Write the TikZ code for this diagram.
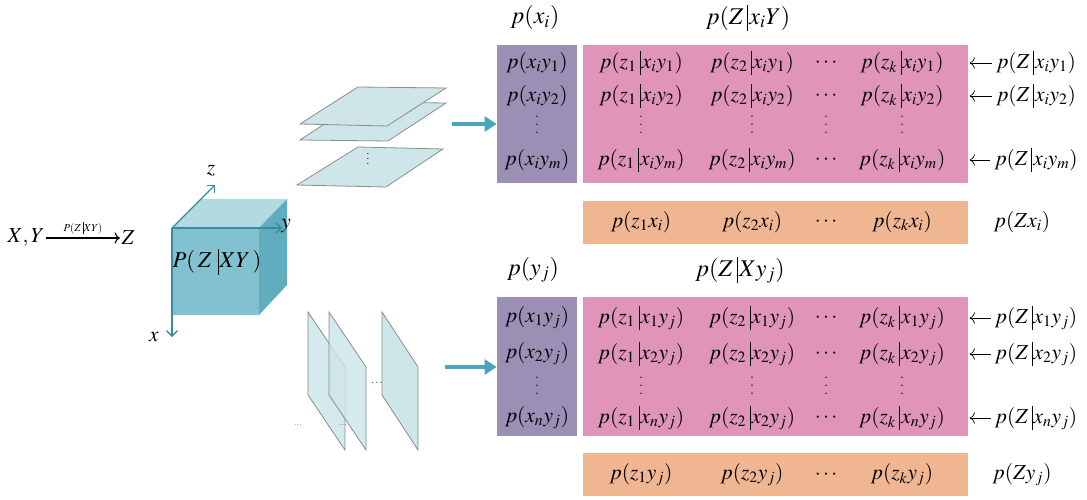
\documentclass[tikz,border=0pt]{standalone}
\usepackage{mathptmx}
\usepackage{xcolor}
\usepackage{tikz}
\usetikzlibrary{arrows.meta}
\definecolor{cubetop}{RGB}{178,216,224}
\definecolor{cubefront}{RGB}{130,193,207}
\definecolor{cubeside}{RGB}{96,173,191}
\definecolor{axisteal}{RGB}{55,140,160}
\definecolor{slicefill}{RGB}{206,230,234}
\definecolor{slicedraw}{RGB}{140,140,140}
\definecolor{colpurple}{RGB}{155,143,182}
\definecolor{blockpink}{RGB}{224,148,186}
\definecolor{rowpeach}{RGB}{240,182,146}
\definecolor{arrowteal}{RGB}{75,165,185}
\newcommand{\dotcol}{\fontsize{11}{11}\selectfont\bfseries
    \vbox{\baselineskip6pt\lineskiplimit0pt\hbox{.}\hbox{.}\hbox{.}}}
\newcommand{\given}{\mskip3mu\vrule height 0.82em depth 0.3em width 0.5pt\mskip1mu}

\begin{document}
\begin{tikzpicture}[x=0.75pt, y=-0.75pt,
    cell/.style={font=\fontsize{16}{18}\selectfont, inner sep=1pt},
    head/.style={font=\fontsize{18}{20}\selectfont, inner sep=1pt},
    block/.style={draw=none, inner sep=0pt, minimum width=288.75pt},
    slice/.style={fill=slicefill, draw=slicedraw, line width=0.6pt},
    axis/.style={axisteal, line width=1pt, -{Straight Barb[length=4pt,width=8pt]}},
    flow/.style={arrowteal, line width=3pt, -{Triangle[length=9pt,width=11pt]}},
    back/.style={-{To[length=4pt]}, line width=0.5pt, shorten >=1pt, shorten <=2pt}
]
\useasboundingbox (0,0) rectangle (1087,499);

% X,Y -> Z
\node[cell] (xy) at (26,238) {$X,Y$};
\node[cell] (zz) at (128,238) {$Z$};
\draw[-{To[length=4pt]}, line width=0.8pt] (xy) -- (zz)
    node[midway, above=-1pt, font=\fontsize{8}{9}\selectfont] {$P(Z\given XY)$};

% cube
\fill[cubefront] (172,228) -- (259,228) -- (259,315) -- (172,315) -- cycle;
\fill[cubetop] (172,228) -- (201,199) -- (287,199) -- (259,228) -- cycle;
\fill[cubeside] (259,228) -- (287,199) -- (287,285) -- (259,315) -- cycle;
\coordinate (o) at (172,228);
\coordinate (zend) at (215,185);
\coordinate (yend) at (282,228);
\coordinate (xend) at (172,337);
\draw[axis] (o) -- (zend);
\draw[axis] (o) -- (yend);
\draw[axis] (o) -- (xend);
\node[cell] (zlab) at (211,171) {$z$};
\node[cell] (ylab) at (286,226) {$y$};
\node[cell] (xlab) at (154,337) {$x$};
\node[font=\fontsize{17}{19}\selectfont] (pzxy) at (217,262) {$P(\,Z\,\given XY\,)$};

% slices (top)
\draw[slice] (358,147) -- (443,149) -- (386,187) -- (297,185) -- cycle;
\draw[slice] (358,102) -- (446,103) -- (388,141) -- (300,140) -- cycle;
\draw[slice] (358,87) -- (446,88) -- (387,126) -- (300,124) -- cycle;
\node[inner sep=0pt, font=\fontsize{8}{8}\selectfont] (tdots) at (368,155) {$\vdots$};

% slices (bottom)
\draw[slice, fill opacity=0.85] (308,312) -- (345,367) -- (345,450) -- (308,395) -- cycle;
\draw[slice, fill opacity=0.85] (329,312) -- (366,367) -- (366,450) -- (329,395) -- cycle;
\draw[slice] (382,312) -- (418,367) -- (418,450) -- (382,395) -- cycle;
\node[font=\fontsize{8}{8}\selectfont, inner sep=0pt] (bdots) at (377,383) {$\cdots$};
\node[font=\fontsize{5}{5}\selectfont, inner sep=0pt] (bdotsa) at (298,425) {...};
\node[font=\fontsize{5}{5}\selectfont, inner sep=0pt] (bdotsb) at (343,425) {...};

% blocks
\node[block, fill=colpurple, minimum width=60pt, minimum height=103.5pt] (tcol) at (537,114) {};
\node[block, fill=blockpink, minimum height=103.5pt] (tpink) at (775.5,114) {};
\node[block, fill=rowpeach, minimum height=32.25pt] (tpeach) at (775.5,222.5) {};
\node[block, fill=colpurple, minimum width=60pt, minimum height=104.25pt] (bcol) at (537,366.5) {};
\node[block, fill=blockpink, minimum height=104.25pt] (bpink) at (775.5,366.5) {};
\node[block, fill=rowpeach, minimum height=32.25pt] (bpeach) at (775.5,474.5) {};

\coordinate (tstart) at (452,124);
\coordinate (bstart) at (445,367);
\draw[flow] (tstart) -- (tstart -| tcol.west);
\draw[flow] (bstart) -- (bstart -| bcol.west);

% headers
\node[head] (hxi) at (535,18) {$p(x_i)$};
\node[head] (hzxi) at (748,18) {$p(Z\given x_iY)$};
\node[head] (hyj) at (533,270) {$p(y_j)$};
\node[head] (hzyj) at (740,270) {$p(Z\given Xy_j)$};

% top block rows
\foreach \r/\yy in {1/63, 2/96, m/160}{
    \node[cell] (ta\r) at (537,\yy) {$p(x_iy_\r)$};
    \node[cell] (tb\r) at (641,\yy) {$p(z_1\given x_iy_\r)$};
    \node[cell] (tc\r) at (752,\yy) {$p(z_2\given x_iy_\r)$};
    \node[cell] (td\r) at (826,\yy) {$\cdots$};
    \node[cell] (te\r) at (902,\yy) {$p(z_k\given x_iy_\r)$};
    \node[cell] (tl\r) at (1036,\yy) {$p(Z\given x_iy_\r)$};
    \draw[back] (tl\r.west) -- (tl\r.west -| tpink.east);
}
\foreach \xx in {537, 641, 752, 826, 902}
    \node[inner sep=0pt] at (\xx,125) {\dotcol};

\node[cell] (tpa) at (641,222) {$p(z_1x_i)$};
\node[cell] (tpb) at (752,222) {$p(z_2x_i)$};
\node[cell] (tpc) at (826,222) {$\cdots$};
\node[cell] (tpd) at (902,222) {$p(z_kx_i)$};
\node[cell] (tpl) at (1022,222) {$p(Zx_i)$};

% bottom block rows
\foreach \r/\s/\yy in {1/1/318, 2/2/354, n/2/418}{
    \node[cell] (ba\r) at (537,\yy) {$p(x_\r y_j)$};
    \node[cell] (bb\r) at (641,\yy) {$p(z_1\given x_\r y_j)$};
    \node[cell] (bc\r) at (752,\yy) {$p(z_2\given x_\s y_j)$};
    \node[cell] (bd\r) at (826,\yy) {$\cdots$};
    \node[cell] (be\r) at (902,\yy) {$p(z_k\given x_\r y_j)$};
    \node[cell] (bl\r) at (1036,\yy) {$p(Z\given x_\r y_j)$};
    \draw[back] (bl\r.west) -- (bl\r.west -| bpink.east);
}
\foreach \xx in {537, 641, 752, 826, 902}
    \node[inner sep=0pt] at (\xx,386) {\dotcol};

\node[cell] (bpa) at (641,475) {$p(z_1y_j)$};
\node[cell] (bpb) at (752,475) {$p(z_2y_j)$};
\node[cell] (bpc) at (826,475) {$\cdots$};
\node[cell] (bpd) at (902,475) {$p(z_ky_j)$};
\node[cell] (bpl) at (1022,475) {$p(Zy_j)$};
\end{tikzpicture}
\end{document}
